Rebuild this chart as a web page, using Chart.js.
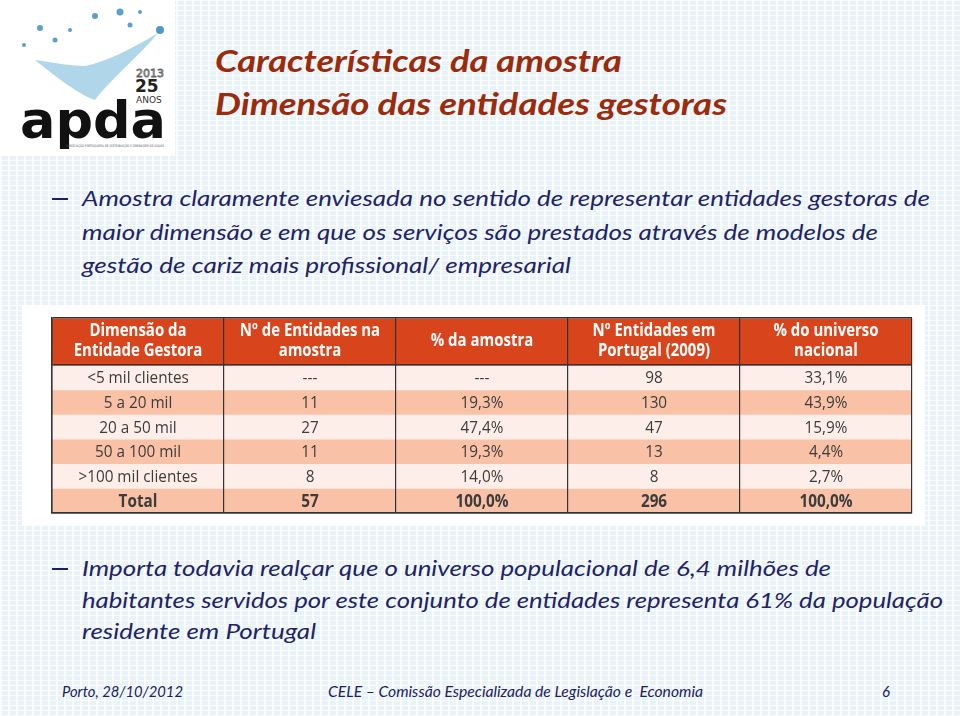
<!DOCTYPE html>
<html>
<head>
<meta charset="utf-8">
<script src="https://cdn.jsdelivr.net/npm/chart.js@4.4.1/dist/chart.umd.min.js"></script>
<style>
  html, body { margin: 0; padding: 0; }
  body {
    width: 960px; height: 716px; position: relative; overflow: hidden;
    background-image:
      linear-gradient(90deg, rgba(255,255,255,0.75) 2px, transparent 2px),
      linear-gradient(rgba(255,255,255,0.75) 1px, transparent 1px);
    background-size: 8px 5px;
    background-color: #e9f2f6;
  }
  .t { position: absolute; white-space: nowrap; transform-origin: 0 50%; }
  .title { font-family: Lato, sans-serif; font-style: italic; font-weight: bold; color: #9a2b0c; font-size: 31px; }
  .body { font-family: Lato, sans-serif; font-style: italic; color: #1e2468; font-size: 22px; }
  .dash { position: absolute; width: 16px; height: 1.5px; background: #1b1f66; }
  .foot { font-family: Lato, sans-serif; font-style: italic; color: #1b2160; font-size: 15px; }
  #tableBox { position: absolute; left: 22px; top: 305px; width: 903px; height: 220px; background: #fff; }
  #logo { position: absolute; left: 0; top: 0; width: 175px; height: 155px; background: #fff; }
</style>
</head>
<body>

<div id="logo">
  <svg width="175" height="155">
    <path d="M35 60 C60 80 80 95 95 100 C110 80 140 55 158 33 C130 50 105 62 85 66 C70 66 50 62 35 60 Z" fill="#8fc4e0" opacity="0.7"/>
    <circle cx="40" cy="28" r="3" fill="#5aa0cf"/>
    <circle cx="55" cy="40" r="2.5" fill="#5aa0cf"/>
    <circle cx="95" cy="16" r="3" fill="#5aa0cf"/>
    <circle cx="120" cy="12" r="3.5" fill="#5aa0cf"/>
    <circle cx="130" cy="25" r="2.5" fill="#5aa0cf"/>
    <circle cx="24" cy="45" r="2" fill="#5aa0cf"/>
    <circle cx="160" cy="30" r="4" fill="#4f97c9"/>
    <circle cx="70" cy="30" r="2" fill="#5aa0cf"/>
    <circle cx="140" cy="12" r="2" fill="#5aa0cf"/>
    <text x="136" y="77" font-family="DejaVu Sans" font-size="11" fill="none" stroke="#666" stroke-width="0.8">2013</text>
    <text x="135" y="92" font-family="DejaVu Sans" font-weight="bold" font-size="17" fill="#222">25</text>
    <text x="136" y="103" font-family="DejaVu Sans" font-size="9" fill="#333">ANOS</text>
    <text x="20" y="138" font-family="DejaVu Sans" font-weight="bold" font-size="52" fill="#111" textLength="146" lengthAdjust="spacingAndGlyphs">apda</text>
    <text x="66" y="147" font-family="DejaVu Sans" font-size="3.5" fill="#555" textLength="98" lengthAdjust="spacingAndGlyphs">ASSOCIAÇÃO PORTUGUESA DE DISTRIBUIÇÃO E DRENAGEM DE ÁGUAS</text>
  </svg>
</div>

<div class="t title" data-w="407" style="left:215px; top:41px;">Características da amostra</div>
<div class="t title" data-w="512" style="left:215px; top:84px;">Dimensão das entidades gestoras</div>

<div class="dash" style="left:52px; top:198px;"></div>
<div class="t body" data-w="848" style="left:82px; top:184px;">Amostra claramente enviesada no sentido de representar entidades gestoras de</div>
<div class="t body" data-w="796" style="left:82px; top:218px;">maior dimensão e em que os serviços são prestados através de modelos de</div>
<div class="t body" data-w="489" style="left:82px; top:251px;">gestão de cariz mais profissional/ empresarial</div>

<div id="tableBox"><canvas id="tableChart"></canvas></div>

<div class="dash" style="left:52px; top:568px;"></div>
<div class="t body" data-w="749" style="left:82px; top:554px;">Importa todavia realçar que o universo populacional de 6,4 milhões de</div>
<div class="t body" data-w="861" style="left:82px; top:586px;">habitantes servidos por este conjunto de entidades representa 61% da população</div>
<div class="t body" data-w="234" style="left:82px; top:617px;">residente em Portugal</div>

<div class="t foot" data-w="121" style="left:62px; top:682px;">Porto, 28/10/2012</div>
<div class="t foot" data-w="375" style="left:328px; top:682px;">CELE – Comissão Especializada de Legislação e&nbsp; Economia</div>
<div class="t foot" style="left:882px; top:682px;">6</div>

<script>
// Table data
const columnHeaders = [
  ["Dimensão da", "Entidade Gestora"],
  ["Nº de Entidades na", "amostra"],
  ["% da amostra"],
  ["Nº Entidades em", "Portugal (2009)"],
  ["% do universo", "nacional"]
];
const rowLabels = ["<5 mil clientes", "5 a 20 mil", "20 a 50 mil", "50 a 100 mil", ">100 mil clientes", "Total"];
const sampleCount = [null, 11, 27, 11, 8, 57];
const samplePct = [null, 19.3, 47.4, 19.3, 14.0, 100.0];
const portugalCount = [98, 130, 47, 13, 8, 296];
const nationalPct = [33.1, 43.9, 15.9, 4.4, 2.7, 100.0];

// fit text lines to the widths measured on the slide
document.querySelectorAll(".t[data-w]").forEach(el => {
  const w = el.getBoundingClientRect().width;
  el.style.transform = `scaleX(${el.dataset.w / w})`;
});

const fmtInt = v => v === null ? "---" : String(v);
const fmtPct = v => v === null ? "---" : v.toFixed(1).replace(".", ",") + "%";

const cellText = rowLabels.map((label, i) => [
  label, fmtInt(sampleCount[i]), fmtPct(samplePct[i]), fmtInt(portugalCount[i]), fmtPct(nationalPct[i])
]);

// row layout in table units (header is taller than body rows)
const headerH = 47;
const rowH = 24.5;
const rowEdges = [0, headerH];
rowLabels.forEach((_, i) => rowEdges.push(headerH + rowH * (i + 1)));
const tableBottom = rowEdges[rowEdges.length - 1];

const headerColor = "#d8451d";
const lightRow = "#fdeeea";
const darkRow = "#f9c2a7";

const colKeys = columnHeaders.map((h, i) => "c" + i);

const datasets = rowEdges.slice(0, -1).map((top, r) => ({
  label: r === 0 ? "header" : rowLabels[r - 1],
  data: colKeys.map(() => [top, rowEdges[r + 1]]),
  backgroundColor: r === 0 ? headerColor : (r % 2 === 1 ? lightRow : darkRow),
  borderWidth: 0,
  grouped: false,
  barPercentage: 1,
  categoryPercentage: 1
}));

// draw text squeezed a little, the slide uses a narrow font
function squeezedText(ctx, txt, x, y, sx) {
  ctx.save();
  ctx.translate(x, y);
  ctx.scale(sx, 1);
  ctx.fillText(txt, 0, 0);
  ctx.restore();
}

const cellTextPlugin = {
  id: "cellText",
  afterDatasetsDraw(chart) {
    const { ctx, scales: { x, y } } = chart;
    ctx.save();
    ctx.textAlign = "center";
    ctx.textBaseline = "middle";
    // header
    ctx.fillStyle = "#ffffff";
    ctx.font = "bold 17px 'Open Sans', sans-serif";
    columnHeaders.forEach((lines, c) => {
      const cx = x.getPixelForValue(c);
      const cy = y.getPixelForValue(headerH / 2);
      lines.forEach((line, k) => {
        const off = (k - (lines.length - 1) / 2) * 20;
        squeezedText(ctx, line, cx, cy + off, 0.88);
      });
    });
    // body rows
    ctx.fillStyle = "#3c3c3c";
    cellText.forEach((row, r) => {
      const isTotal = r === cellText.length - 1;
      ctx.font = (isTotal ? "bold " : "") + "17px 'Open Sans', sans-serif";
      const cy = y.getPixelForValue((rowEdges[r + 1] + rowEdges[r + 2]) / 2);
      row.forEach((txt, c) => {
        squeezedText(ctx, txt, x.getPixelForValue(c), cy + 1, 0.9);
      });
    });
    ctx.restore();
  }
};

new Chart(document.getElementById("tableChart"), {
  type: "bar",
  data: { labels: colKeys, datasets: datasets },
  options: {
    responsive: true,
    maintainAspectRatio: false,
    animation: false,
    layout: { padding: { left: 30, right: 13, top: 13, bottom: 12 } },
    plugins: { legend: { display: false }, tooltip: { enabled: false } },
    scales: {
      x: {
        ticks: { display: false },
        grid: { z: 1, offset: true, color: "#333333", lineWidth: 1.2, drawTicks: false },
        border: { z: 1, display: true, color: "#333333", width: 1.5 }
      },
      y: {
        min: 0,
        max: tableBottom,
        reverse: true,
        ticks: { display: false },
        afterBuildTicks: scale => {
          scale.ticks = [{ value: 0 }, { value: headerH }, { value: tableBottom }];
        },
        grid: { z: 1, color: "#333333", lineWidth: 1.5, drawTicks: false },
        border: { z: 1, display: true, color: "#333333", width: 1.5 }
      }
    }
  },
  plugins: [cellTextPlugin]
});
</script>
</body>
</html>
